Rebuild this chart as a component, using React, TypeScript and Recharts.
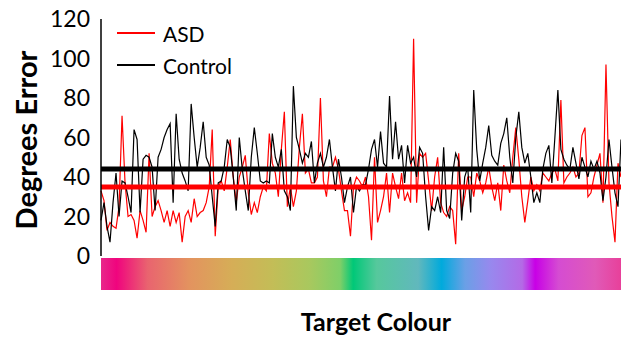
import { LineChart, Line, XAxis, YAxis, ReferenceLine } from "recharts"

// mean error per group
const asdMean = 35
const controlMean = 44

const yTicks = [0, 20, 40, 60, 80, 100, 120]

// degrees error per target colour (left to right)
const asd = [
  33, 28, 13, 17, 15, 14, 25, 71, 37, 20,
  21, 18, 9, 23, 18, 12, 52, 20, 25, 28,
  23, 17, 23, 15, 23, 17, 22, 7, 20, 23,
  17, 29, 20, 22, 23, 27, 35, 64, 10, 35,
  38, 33, 45, 59, 40, 27, 40, 45, 51, 32,
  21, 27, 22, 30, 35, 33, 62, 47, 42, 30,
  54, 73, 25, 35, 25, 33, 55, 72, 42, 44,
  37, 37, 40, 80, 38, 30, 45, 45, 50, 44,
  33, 23, 23, 10, 35, 40, 38, 35, 40, 30,
  8, 50, 17, 23, 30, 42, 22, 42, 35, 29,
  42, 28, 32, 27, 110, 27, 52, 50, 52, 38,
  23, 40, 50, 27, 22, 20, 25, 23, 6, 52,
  23, 30, 40, 40, 30, 42, 38, 32, 37, 45,
  35, 28, 37, 23, 46, 38, 32, 50, 65, 49,
  30, 17, 28, 40, 33, 36, 33, 42, 40, 38,
  42, 44, 38, 79, 37, 40, 42, 45, 40, 42,
  61, 65, 30, 32, 40, 46, 52, 27, 97, 37,
  20, 7, 47, 40,
]

const control = [
  18, 27, 15, 7, 27, 42, 20, 38, 37, 30,
  22, 64, 59, 22, 49, 51, 50, 45, 23, 50,
  54, 60, 64, 67, 27, 72, 49, 42, 38, 33,
  77, 60, 45, 55, 68, 50, 46, 30, 15, 37,
  38, 45, 59, 55, 40, 23, 60, 44, 33, 23,
  50, 65, 52, 38, 37, 38, 37, 62, 50, 45,
  54, 33, 30, 23, 86, 60, 54, 47, 52, 50,
  58, 37, 47, 52, 45, 50, 59, 45, 33, 49,
  40, 27, 35, 40, 22, 35, 33, 36, 36, 44,
  54, 59, 45, 63, 47, 45, 81, 49, 68, 49,
  56, 37, 56, 47, 50, 40, 55, 52, 30, 13,
  25, 23, 30, 22, 55, 23, 19, 42, 52, 48,
  18, 40, 45, 22, 84, 54, 38, 47, 55, 66,
  51, 48, 46, 57, 62, 70, 50, 37, 60, 73,
  55, 47, 52, 40, 27, 32, 27, 44, 52, 56,
  37, 60, 84, 54, 49, 46, 44, 55, 47, 39,
  50, 45, 40, 48, 44, 48, 42, 28, 40, 59,
  45, 32, 25, 59,
]

const series = [
  { key: "asd", name: "ASD", color: "#ff0000" },
  { key: "control", name: "Control", color: "#000000" },
]

const data = asd.map((v, i) => ({ idx: i, asd: v, control: control[i] }))

const font = "Lato, 'Open Sans', sans-serif"

const hueBar =
  "linear-gradient(to right, #e8288a 0%, #f0047e 3%, #e9646f 9%, #e3935f 17%, #d6ad57 25%, #c3bd57 33%, #a9c85e 40%, #7fcf68 46%, #00c878 48.5%, #56c89c 53%, #61b8bd 61%, #00aadc 65.5%, #6aa0e6 70%, #9888ee 75%, #b46ae6 81%, #c800e6 83.5%, #d54cd2 88%, #e05ab8 95%, #e8409a 100%)"

export default function App() {
  return (
    <div
      style={{
        position: "absolute",
        left: 0,
        top: 0,
        width: 621,
        height: 337,
        background: "#fff",
        fontFamily: font,
      }}
    >
      <LineChart
        width={621}
        height={337}
        data={data}
        margin={{ top: 19, right: 0, bottom: 81, left: 0 }}
      >
        <XAxis
          dataKey="idx"
          type="category"
          height={0}
          tick={false}
          tickLine={false}
          axisLine={{ stroke: "#404040", strokeWidth: 1.5 }}
        />
        <YAxis
          width={101}
          domain={[0, 120]}
          ticks={yTicks}
          tickLine={false}
          tickMargin={5}
          axisLine={{ stroke: "#000", strokeWidth: 1.5 }}
          tick={{ fill: "#000", fontSize: 23, fontFamily: font }}
        />
        {series.map((s) => (
          <Line
            key={s.key}
            type="linear"
            dataKey={s.key}
            name={s.name}
            stroke={s.color}
            strokeWidth={1.2}
            dot={false}
            isAnimationActive={false}
          />
        ))}
        <ReferenceLine y={controlMean} stroke="#000" strokeWidth={5} />
        <ReferenceLine y={asdMean} stroke="#ff0000" strokeWidth={5} />
      </LineChart>

      <div style={{ position: "absolute", left: 117, top: 17 }}>
        {series.map((s) => (
          <div
            key={s.key}
            style={{ display: "flex", alignItems: "center", height: 32, fontSize: 21 }}
          >
            <div style={{ width: 38, height: 1.5, background: s.color, marginRight: 8 }} />
            <span>{s.name}</span>
          </div>
        ))}
      </div>

      <div
        style={{
          position: "absolute",
          left: 101,
          top: 258,
          width: 520,
          height: 32,
          background: hueBar,
        }}
      />

      <div
        style={{
          position: "absolute",
          left: 25,
          top: 140,
          transform: "translate(-50%, -50%) rotate(-90deg)",
          whiteSpace: "nowrap",
          fontSize: 29,
          fontWeight: 700,
        }}
      >
        Degrees Error
      </div>

      <div
        style={{
          position: "absolute",
          left: 376,
          top: 321,
          transform: "translate(-50%, -50%)",
          whiteSpace: "nowrap",
          fontSize: 25,
          fontWeight: 700,
        }}
      >
        Target Colour
      </div>
    </div>
  )
}
